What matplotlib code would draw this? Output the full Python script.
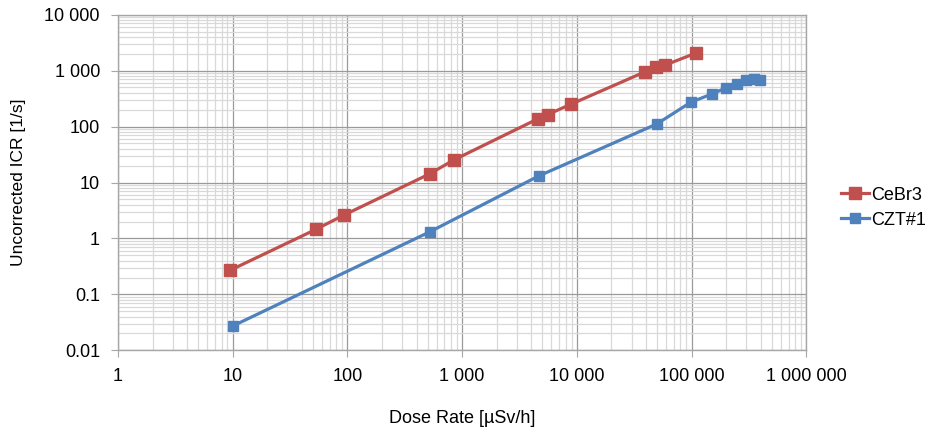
import matplotlib
matplotlib.use("Agg")
import matplotlib.pyplot as plt
from matplotlib.ticker import LogLocator, FixedLocator, FixedFormatter, NullFormatter

plt.rcParams['font.family'] = ['Liberation Sans', 'DejaVu Sans']

# Dose rate [µSv/h] and uncorrected input count rate [1/s]
cebr3_dose = [9.5, 53, 94, 522, 845, 4620, 5570, 8950, 39600, 49300, 59000, 109000]
cebr3_icr = [0.27, 1.45, 2.64, 14.3, 25.3, 139, 164, 253, 960, 1145, 1260, 2060]

czt_dose = [10, 521, 4650, 49600, 98400, 150000, 198000, 247000, 296000, 348000, 395000]
czt_icr = [0.0272, 1.31, 13.1, 111, 272, 382, 489, 586, 671, 708, 679]

x_ticks = [1, 10, 100, 1000, 10000, 100000, 1000000]
x_labels = ["1", "10", "100", "1 000", "10 000", "100 000", "1 000 000"]
y_ticks = [0.01, 0.1, 1, 10, 100, 1000, 10000]
y_labels = ["0.01", "0.1", "1", "10", "100", "1 000", "10 000"]

fig = plt.figure(figsize=(9.27, 4.30), dpi=100)
ax = fig.add_axes([0.1273, 0.1853, 0.7425, 0.7805])

ax.set_xscale('log')
ax.set_yscale('log')
ax.set_xlim(1, 1e6)
ax.set_ylim(0.01, 1e4)

ax.xaxis.set_major_locator(FixedLocator(x_ticks))
ax.xaxis.set_major_formatter(FixedFormatter(x_labels))
ax.yaxis.set_major_locator(FixedLocator(y_ticks))
ax.yaxis.set_major_formatter(FixedFormatter(y_labels))
ax.xaxis.set_minor_locator(LogLocator(base=10, subs=range(2, 10), numticks=20))
ax.yaxis.set_minor_locator(LogLocator(base=10, subs=range(2, 10), numticks=20))
ax.xaxis.set_minor_formatter(NullFormatter())
ax.yaxis.set_minor_formatter(NullFormatter())

ax.grid(which='minor', color='#d9d9d9', linewidth=0.9)
ax.grid(which='major', color='#9a9a9a', linewidth=0.9)
ax.set_axisbelow(True)

for s in ax.spines.values():
    s.set_color('#a6a6a6')
    s.set_linewidth(1.0)

ax.tick_params(which='major', direction='out', length=5, color='#a6a6a6',
               labelsize=13, pad=8)
ax.tick_params(which='minor', length=0)

ax.plot(cebr3_dose, cebr3_icr, color='#C0504D', linewidth=2.3,
        marker='s', markersize=8, label='CeBr3')
ax.plot(czt_dose, czt_icr, color='#4F81BD', linewidth=2.3,
        marker='s', markersize=6.5, label='CZT#1')

ax.set_xlabel('Dose Rate [µSv/h]', fontsize=13)
ax.set_ylabel('Uncorrected ICR [1/s]', fontsize=12.5)
ax.xaxis.set_label_coords(0.5, -0.178)
ax.yaxis.set_label_coords(-0.133, 0.5)

fig.legend(loc='upper left', bbox_to_anchor=(0.899, 0.583), frameon=False,
           fontsize=13, handlelength=1.6, handletextpad=0.1,
           labelspacing=0.45, borderaxespad=0)

fig.savefig('out.png', dpi=100)
